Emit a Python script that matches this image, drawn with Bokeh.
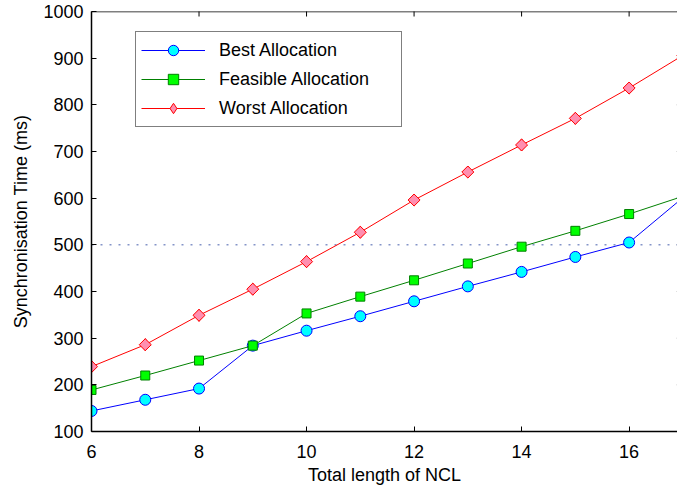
import math

from bokeh.plotting import figure
from bokeh.models import Range1d, FixedTicker, Span, Legend, LegendItem
from bokeh.embed import file_html
from bokeh.resources import INLINE

# NCL length vs. synchronisation time (ms) for three allocation strategies
ncl_length = [6, 7, 8, 9, 10, 11, 12, 13, 14, 15, 16, 17]
best_alloc = [144, 168, 192, 284, 316, 347, 379, 411, 442, 474, 505, 601]
feasible_alloc = [189, 220, 252, 284, 353, 389, 424, 460, 496, 530, 566, 604]
worst_alloc = [239, 286, 349, 405, 464, 527, 596, 656, 714, 771, 836, 906]

x_ticks = [6, 8, 10, 12, 14, 16]
y_ticks = [100, 200, 300, 400, 500, 600, 700, 800, 900, 1000]
reference_level = 500

X_MIN, X_MAX = 6, 16.9
Y_MIN, Y_MAX = 100, 1000

FONT = "Liberation Sans"
FS = "18px"

p = figure(width=677, height=490, output_backend="svg", toolbar_location=None,
           x_range=Range1d(X_MIN, X_MAX), y_range=Range1d(Y_MIN, Y_MAX),
           min_border_left=91, min_border_right=0, min_border_top=11,
           min_border_bottom=59)
p.outline_line_color = None
p.xgrid.visible = False
p.ygrid.visible = False
p.background_fill_color = "white"
p.border_fill_color = "white"

for ax, ticks in ((p.xaxis[0], x_ticks), (p.yaxis[0], y_ticks)):
    ax.ticker = FixedTicker(ticks=ticks)
    ax.major_tick_in = 5
    ax.major_tick_out = 0
    ax.minor_tick_line_color = None
    ax.axis_line_width = 1.5
    ax.axis_line_color = "black"
    ax.major_tick_line_color = "black"
    ax.major_label_text_font = FONT
    ax.major_label_text_font_size = FS
    ax.major_label_text_color = "black"
    ax.axis_label_text_font = FONT
    ax.axis_label_text_font_size = FS
    ax.axis_label_text_font_style = "normal"
    ax.axis_label_text_color = "black"

p.xaxis[0].axis_label = "Total length of NCL"
p.xaxis[0].major_label_standoff = 13
p.xaxis[0].axis_label_standoff = 4
p.yaxis[0].axis_label = "Synchronisation Time (ms)"
p.yaxis[0].major_label_standoff = 8
p.yaxis[0].axis_label_standoff = 9

# top edge of the box, with inward tick marks along it and on the right side
p.add_layout(Span(location=Y_MAX, dimension="width", line_color="black", line_width=1.5))
p.scatter(x_ticks, [Y_MAX] * len(x_ticks), marker="dash", angle=math.pi / 2, size=10,
          line_color="black", line_width=1)
p.scatter([17] * len(y_ticks), y_ticks, marker="dash", size=12,
          line_color="black", line_width=1)

p.add_layout(Span(location=reference_level, dimension="width", line_color="#8494c8",
                  line_width=1.5, line_dash="2 7", level="underlay"))

items = []

# Best allocation: cyan circles on a blue line
lr = p.line(ncl_length, best_alloc, line_color="#0000ff", line_width=1)
sr = p.scatter(ncl_length, best_alloc, marker="circle", size=11, fill_color="#00ffff",
               line_color="#0000ff", line_width=1)
items.append(LegendItem(label="Best Allocation", renderers=[lr, sr]))

# Feasible allocation: green squares on a dark green line
lr = p.line(ncl_length, feasible_alloc, line_color="#008000", line_width=1)
sr = p.scatter(ncl_length, feasible_alloc, marker="square", size=9, fill_color="#00ff00",
               line_color="#008000", line_width=1)
items.append(LegendItem(label="Feasible Allocation", renderers=[lr, sr]))

# Worst allocation: pink diamonds on a red line
lr = p.line(ncl_length, worst_alloc, line_color="#ff0000", line_width=1)
dr = p.scatter(ncl_length, worst_alloc, marker="diamond", size=12, fill_color="#ff8fb0",
               line_color="#ff0000", line_width=1)
p.scatter(ncl_length, worst_alloc, marker="square", size=8.5, angle=math.pi / 4,
          fill_color="#ff8fb0", line_color="#ff0000", line_width=1)
items.append(LegendItem(label="Worst Allocation", renderers=[lr, dr]))

legend = Legend(items=items, location=(44, 304), padding=5, spacing=3,
                glyph_width=64, glyph_height=26, label_height=26, label_width=177,
                label_standoff=14, margin=0,
                label_text_font=FONT, label_text_font_size=FS, label_text_color="black",
                border_line_color="black", border_line_width=1,
                background_fill_color="white", background_fill_alpha=1)
p.add_layout(legend)

open("out.html", "w").write(file_html(p, INLINE))
